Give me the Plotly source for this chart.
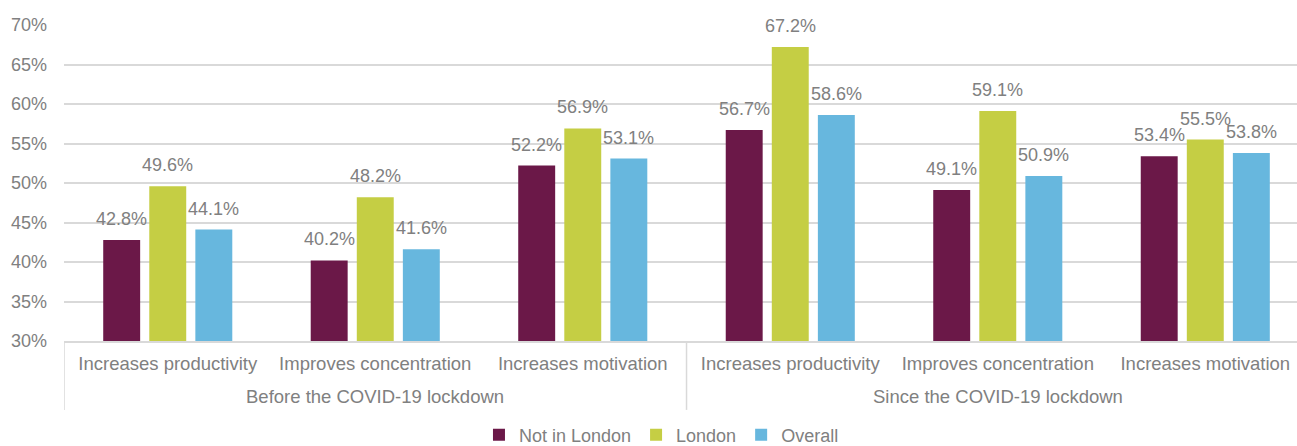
import plotly.graph_objects as go

periods = ["Before the COVID-19 lockdown", "Since the COVID-19 lockdown"]
benefits = ["Increases productivity", "Improves concentration", "Increases motivation"]

not_in_london = [42.8, 40.2, 52.2, 56.7, 49.1, 53.4]
london = [49.6, 48.2, 56.9, 67.2, 59.1, 55.5]
overall = [44.1, 41.6, 53.1, 58.6, 50.9, 53.8]

series_names = ["Not in London", "London", "Overall"]
series_values = [not_in_london, london, overall]
series_colors = ["#6B1848", "#C5CE44", "#67B7DE"]

font_family = "Liberation Sans, Arial, Helvetica, sans-serif"
grey = "#808080"
line_grey = "#D9D9D9"
label_size = 18.5

# one slot per (period, benefit) pair on a numeric axis
tick_labels = [b for _ in periods for b in benefits]
positions = list(range(len(tick_labels)))

bar_w = 0.178      # bar width in category units
slot = 0.222       # centre-to-centre distance of bars inside a group

fig = go.Figure()
annotations = []
for k, (name, vals, color) in enumerate(zip(series_names, series_values, series_colors)):
    shift = (k - 1) * slot
    fig.add_trace(go.Bar(
        name=name,
        x=positions,
        y=vals,
        width=bar_w,
        offset=shift - bar_w / 2,
        marker=dict(color=color, line=dict(width=0)),
        hovertemplate="%{y:.1f}%<extra>" + name + "</extra>",
    ))
    for p, v in zip(positions, vals):
        annotations.append(dict(
            x=p + shift, y=v, xref="x", yref="y",
            text=f"{v:.1f}%", showarrow=False,
            yanchor="middle", yshift=21,
            font=dict(family=font_family, size=18, color=grey),
        ))

# period labels under the benefit labels
for g, period in enumerate(periods):
    annotations.append(dict(
        x=g * len(benefits) + (len(benefits) - 1) / 2, y=-0.177,
        xref="x", yref="paper", yanchor="middle",
        text=period, showarrow=False,
        font=dict(family=font_family, size=label_size, color=grey),
    ))

# divider lines between the period groups
shapes = []
for g in range(len(periods) + 1):
    xd = g * len(benefits) - 0.5
    shapes.append(dict(
        type="line", xref="x", yref="paper",
        x0=xd, x1=xd, y0=0, y1=-0.218,
        line=dict(color=line_grey, width=1.5),
        layer="above",
    ))

fig.update_layout(
    width=1297,
    height=446,
    margin=dict(l=64, r=0, t=25, b=105),
    paper_bgcolor="white",
    plot_bgcolor="white",
    barmode="overlay",
    font=dict(family=font_family, size=16, color=grey),
    showlegend=True,
    legend=dict(
        orientation="h",
        x=0.51,
        xanchor="center",
        xref="container",
        yref="container",
        y=0.066,
        yanchor="top",
        font=dict(family=font_family, size=18, color=grey),
        itemwidth=30,
        tracegroupgap=0,
        traceorder="normal",
    ),
    annotations=annotations,
    shapes=shapes,
    xaxis=dict(
        range=[-0.5, 5.442],
        tickmode="array",
        tickvals=positions,
        ticktext=tick_labels,
        showline=True,
        linecolor=line_grey,
        linewidth=1.5,
        showgrid=False,
        zeroline=False,
        ticks="",
        tickfont=dict(family=font_family, size=label_size, color=grey),
        ticklabelstandoff=5,
        automargin=False,
    ),
    yaxis=dict(
        range=[30, 70],
        dtick=5,
        ticksuffix="%",
        showgrid=True,
        gridcolor=line_grey,
        gridwidth=1.5,
        zeroline=False,
        showline=False,
        tickfont=dict(family=font_family, size=18, color=grey),
        ticklabelstandoff=16,
        automargin=False,
    ),
)

fig.write_html("out.html")
